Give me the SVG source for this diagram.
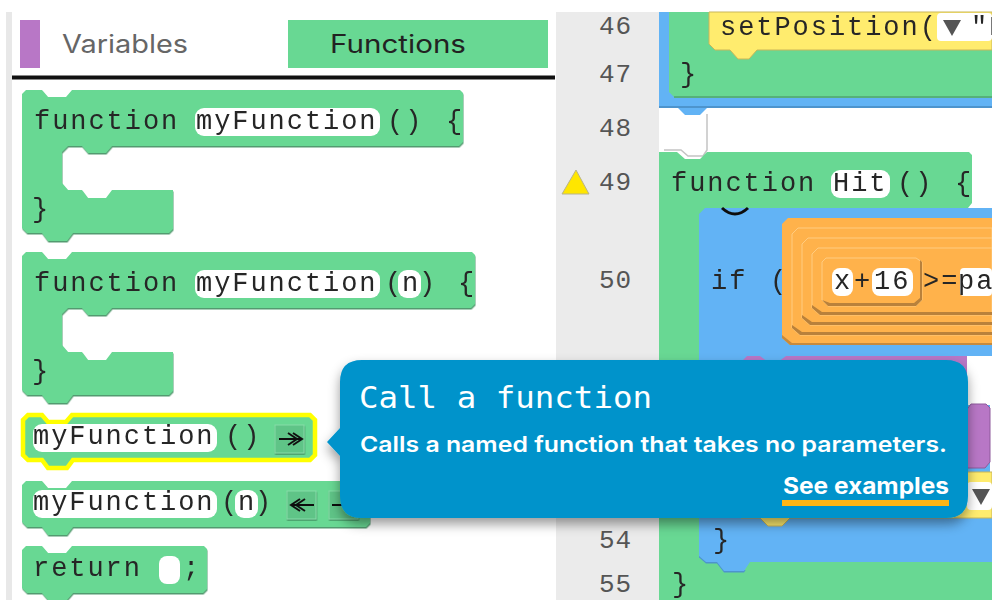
<svg xmlns="http://www.w3.org/2000/svg" width="992" height="600" viewBox="0 0 992 600">
<defs>
<filter id="blur" x="-5%" y="-5%" width="110%" height="110%"><feGaussianBlur stdDeviation="0.5"/></filter>
<filter id="bev" x="-5%" y="-5%" width="110%" height="110%"><feDropShadow dx="0.500" dy="1.500" stdDeviation="0.300" flood-color="#3f8f60" flood-opacity="0.9"/></filter>
<filter id="shadow" x="-5%" y="-10%" width="110%" height="125%"><feDropShadow dx="0" dy="6" stdDeviation="6" flood-color="#000" flood-opacity="0.4"/></filter>
</defs>
<style>
.g{fill:#68d893}
.gb{fill:#68d893;filter:url(#bev)}
.bl{fill:#62b3f5}
.or{fill:#ffb24c}
.orl{fill:#ffb24c;stroke:#ffcc80;stroke-width:1}
.od{fill:#b9813a}
.pill{fill:#fff}
.c{font-family:"Liberation Mono",monospace;font-size:27px;letter-spacing:1.95px;fill:#262626}
.n{font-family:"Liberation Mono",monospace;font-size:26px;letter-spacing:1px;fill:#555}
.ui{font-family:Inter,"Noto Sans",sans-serif;font-size:25px}
.btn{fill:#5fc487;stroke:#86dca8;stroke-width:1;filter:url(#bev)}
.ic{stroke:#111;stroke-width:2;fill:none}
</style>
<rect width="992" height="600" fill="#fff"/>
<g id="flyout">
<rect x="6" y="12" width="6" height="588" fill="#e8e8e8"/>
<rect x="20" y="20" width="20" height="48" fill="#b877c6"/>
<text class="ui" x="62" y="53" fill="#666" textLength="126" lengthAdjust="spacingAndGlyphs">Variables</text>
<rect x="288" y="20" width="260" height="48" fill="#68d893"/>
<text class="ui" x="330" y="53" fill="#222" textLength="136" lengthAdjust="spacingAndGlyphs">Functions</text>
<rect x="12" y="75.500" width="543" height="4" fill="#111"/>
</g>
<g id="gutter">
<rect x="556" y="12" width="103" height="588" fill="#ebebeb"/>
<path d="M576 170 L589 194 L562 194 Z" fill="#ffe600" stroke="#b8b48a" stroke-width="1"/>
<text class="n" x="599" y="34">46</text>
<text class="n" x="599" y="82">47</text>
<text class="n" x="599" y="136">48</text>
<text class="n" x="599" y="190">49</text>
<text class="n" x="599" y="288">50</text>
<text class="n" x="599" y="548">54</text>
<text class="n" x="599" y="592">55</text>
</g>
<g id="block-function" filter="url(#blur)">
<path class="gb" d="M26 90 L42 90 L48 97 L66 97 L72 90 L460 90 L463 93 L463 142 L459 146 L112 146 L106 153 L88 153 L82 146 L68 146 L62 152 L62 183 L68 190 L82 190 L88 198 L106 198 L112 190 L173 190 L173 229 L169 233 L73 233 L67 241 L48 241 L42 233 L27 233 L22 228 L22 94 Z"/>
<rect x="195" y="108" width="185" height="28" rx="9" class="pill"/>
<text class="c" x="34" y="129">function</text>
<text class="c" x="196" y="129">myFunction</text>
<text class="c" x="387" y="129">()</text>
<text class="c" x="446" y="129" letter-spacing="0">{</text>
<text class="c" x="32" y="217">}</text>
</g>
<g id="block-function-n" filter="url(#blur)">
<path class="gb" d="M26 252 L42 252 L48 259 L66 259 L72 252 L472 252 L475 255 L475 304 L471 308 L112 308 L106 315 L88 315 L82 308 L68 308 L62 314 L62 345 L68 352 L82 352 L88 360 L106 360 L112 352 L173 352 L173 391 L169 395 L73 395 L67 403 L48 403 L42 395 L27 395 L22 390 L22 256 Z"/>
<rect x="195" y="270" width="185" height="28" rx="9" class="pill"/>
<rect x="398" y="270" width="23" height="28" rx="9" class="pill"/>
<text class="c" x="34" y="291">function</text>
<text class="c" x="196" y="291">myFunction</text>
<text class="c" x="385" y="291" letter-spacing="0">(</text>
<text class="c" x="402" y="291" letter-spacing="0">n</text>
<text class="c" x="419" y="291" letter-spacing="0">)</text>
<text class="c" x="458" y="291" letter-spacing="0">{</text>
<text class="c" x="32" y="379">}</text>
</g>
<g id="block-call" filter="url(#blur)">
<path class="g" d="M28 415 L42 415 L48 422 L66 422 L72 415 L310 415 L315 420 L315 455 L310 460 L73 460 L67 468 L48 468 L42 460 L28 460 L23 455 L23 420 Z" stroke="#ffff00" stroke-width="4.500"/>
<rect x="33" y="424" width="184" height="28" rx="9" class="pill"/>
<text class="c" x="33" y="444">myFunction</text>
<text class="c" x="225" y="444">()</text>
<rect x="275" y="425" width="29" height="28" class="btn"/>
<path class="ic" d="M279 439 H302 M293 433 L302 439 L293 445 M288 433 L297 439 L288 445"/>
</g>
<g id="block-call-n" filter="url(#blur)">
<path class="gb" d="M26 481 L42 481 L48 488 L66 488 L72 481 L367 481 L370 484 L370 523 L366 527 L73 527 L67 535 L48 535 L42 527 L27 527 L22 522 L22 485 Z"/>
<rect x="33" y="490" width="184" height="28" rx="9" class="pill"/>
<rect x="235" y="490" width="23" height="28" rx="9" class="pill"/>
<text class="c" x="33" y="510">myFunction</text>
<text class="c" x="221" y="510" letter-spacing="0">(</text>
<text class="c" x="238" y="510" letter-spacing="0">n</text>
<text class="c" x="255" y="510" letter-spacing="0">)</text>
<rect x="287" y="491" width="29" height="28" class="btn"/>
<path class="ic" d="M314 505 H291 M300 499 L291 505 L300 511 M305 499 L296 505 L305 511"/>
<rect x="329" y="491" width="29" height="28" class="btn"/>
<path class="ic" d="M332 505 H346"/>
</g>
<g id="block-return" filter="url(#blur)">
<path class="gb" d="M26 546 L42 546 L48 553 L66 553 L72 546 L204 546 L207 549 L207 589 L203 593 L73 593 L67 600 L48 600 L42 593 L27 593 L22 588 L22 550 Z"/>
<rect x="159" y="556" width="21" height="28" rx="8" class="pill"/>
<text class="c" x="33" y="576">return</text>
<text class="c" x="183" y="576">;</text>
</g>
<g id="code-upper" filter="url(#blur)">
<path class="bl" d="M659 12 H992 V107 H708 L700 115 H685 L677 107 H659 Z"/>
<rect x="659" y="106" width="333" height="2" fill="#4d94cd"/>
<path class="g" d="M669 12 H992 V97 H674 L669 92 Z"/>
<rect x="674" y="96" width="318" height="2" fill="#56b07a"/>
<path d="M709 12 H992 V50 H757 L749 59 H738 L730 50 H715 L709 44 Z" fill="#ffec6e" stroke="#c9b65a" stroke-width="1"/>
<rect x="937" y="13" width="55" height="28" rx="4" class="pill"/>
<text class="c" x="720" y="35">setPosition(</text>
<path d="M943 20 H961 L952 36 Z" fill="#555"/>
<text class="c" x="971" y="35">"K</text>
<text class="c" x="680" y="82">}</text>
<path d="M707 114 V150 L703 156 H688 L681 150 H664" fill="none" stroke="#c4c4c4" stroke-width="1.500"/>
</g>
<g id="code-lower" filter="url(#blur)">
<path class="g" d="M659 152 H677 L685 159 H700 L707 152 H969 L972 155 V203 L968 208 H730 V570 H992 V600 H659 Z"/>
<path d="M699 214 L705 208 H992 V356 H967 V405 H992 V562 H750 L744 571 H724 L717 562 H706 L699 556 Z" fill="#4d94cd" transform="translate(0 1.500)"/>
<rect x="730" y="560" width="262" height="10" fill="#68d893"/>
<path class="bl" d="M705 208 H992 V356 H967 V405 H992 V562 H750 L744 571 H724 L717 562 H706 L699 556 V214 Z"/>
<path d="M722 208 Q735 220 748 208" fill="none" stroke="#111" stroke-width="3"/>
<rect x="967" y="356" width="25" height="49" fill="#fff"/>
<rect x="990" y="403" width="2" height="70" fill="#fff"/>
<path d="M788 218 H992 V345 H790 L782 338 V224 Z" class="or"/>
<path d="M782 338 L790 345 H992 V343 H792 L782 335 Z" fill="#c78a3c"/>
<path d="M798 228 H992 V335 H800 L792 328 V234 Z" class="orl"/>
<path d="M792 328 L800 335 H992 V332 H802 L792 325 Z" class="od"/>
<path d="M808 238 H992 V325 H810 L802 318 V244 Z" class="orl"/>
<path d="M802 318 L810 325 H992 V322 H812 L802 315 Z" class="od"/>
<path d="M818 248 H992 V315 H820 L812 308 V254 Z" class="orl"/>
<path d="M812 308 L820 315 H992 V312 H822 L812 305 Z" class="od"/>
<path d="M826 258 H916 L922 262 V300 L916 306 H828 L822 300 V262 Z" class="orl"/>
<path d="M822 300 L828 306 H916 L922 300 V262 L920 260 V298 L914 303 H830 Z" class="od"/>
<rect x="832" y="268" width="21" height="28" rx="8" class="pill"/>
<rect x="872" y="268" width="41" height="28" rx="8" class="pill"/>
<rect x="960" y="268" width="32" height="28" rx="4" class="pill"/>
<rect x="831" y="170" width="59" height="28" rx="9" class="pill"/>
<text class="c" x="671" y="191">function</text>
<text class="c" x="833" y="191">Hit</text>
<text class="c" x="897" y="191">()</text>
<text class="c" x="955" y="191" letter-spacing="0">{</text>
<text class="c" x="711" y="289">if</text>
<text class="c" x="770" y="289" letter-spacing="0">(</text>
<text class="c" x="834" y="289" letter-spacing="0">x</text>
<text class="c" x="854" y="289" letter-spacing="0">+</text>
<text class="c" x="874" y="289">16</text>
<text class="c" x="923" y="289" letter-spacing="1">&gt;=</text>
<text class="c" x="958" y="289">pa</text>
<path d="M741 362 L747 356 H760 L768 362 H778 L786 356 H967 V440 H741 Z" fill="#b877c6"/>
<path d="M965 412 L971 404 H986 L990 408 V462 L985 468 H965 Z" fill="#b877c6" stroke="#8e5a9c" stroke-width="1"/>
<path d="M741 472 H992 V518 H790 L782 526 H768 L760 518 H741 Z" fill="#ffec6e" stroke="#c9b65a" stroke-width="1"/>
<rect x="967" y="482" width="25" height="28" rx="4" class="pill"/>
<path d="M972 489 H990 L981 505 Z" fill="#555"/>
<text class="c" x="713" y="548">}</text>
<text class="c" x="672" y="592">}</text>
</g>
<g id="tooltip">
<path d="M362 360 H946 Q968 360 968 382 V496 Q968 518 946 518 H362 Q340 518 340 496 V456 L327 442 L340 428 V382 Q340 360 362 360 Z" fill="#0093cb" filter="url(#shadow)"/>
<text x="359" y="408" font-family="'DejaVu Sans Mono',monospace" font-size="30" fill="#fff" textLength="293" lengthAdjust="spacingAndGlyphs">Call a function</text>
<text x="360" y="452" font-family="Inter,'Noto Sans',sans-serif" font-size="22" font-weight="600" fill="#fff" textLength="587" lengthAdjust="spacingAndGlyphs">Calls a named function that takes no parameters.</text>
<text x="783" y="494" font-family="Inter,'Noto Sans',sans-serif" font-size="23" font-weight="700" fill="#fff" textLength="166" lengthAdjust="spacingAndGlyphs">See examples</text>
<rect x="782" y="500" width="167" height="6" fill="#ffb515"/>
</g>
</svg>
